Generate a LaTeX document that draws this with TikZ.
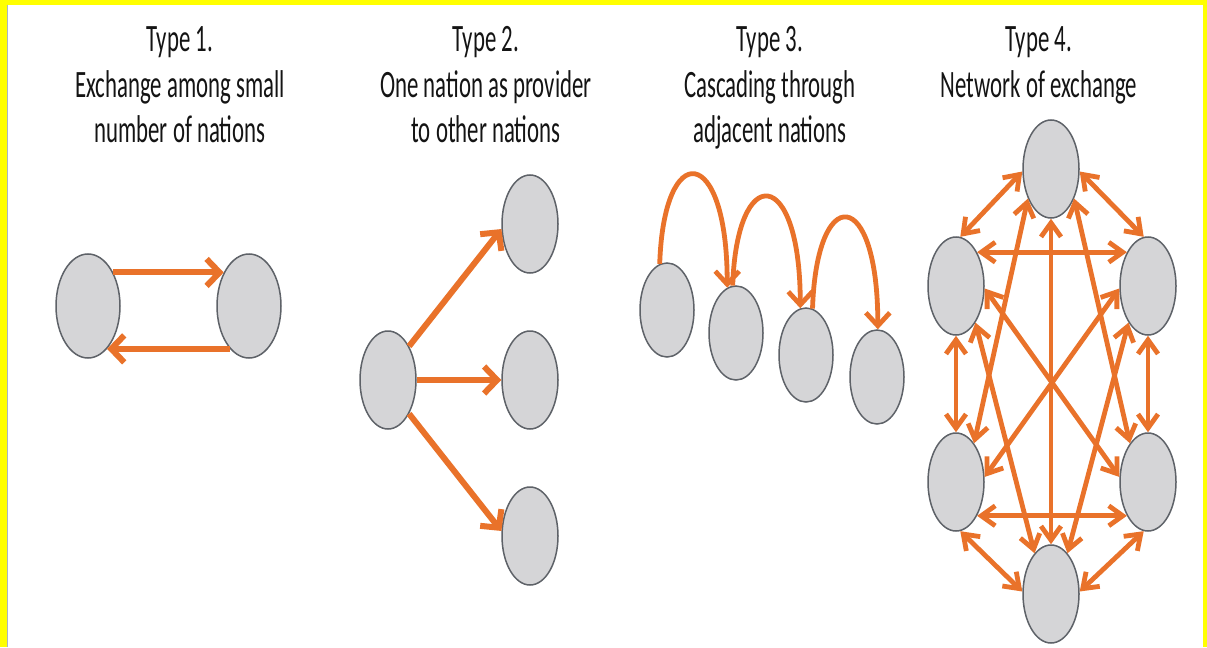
\documentclass[tikz,border=0pt]{standalone}
\usepackage{fontspec}
\setmainfont{Carlito}
\usetikzlibrary{arrows.meta,shapes.geometric}
\definecolor{orng}{HTML}{E9722A}
\definecolor{nfill}{HTML}{D5D5D7}
\definecolor{nline}{HTML}{5E6268}
\definecolor{ylw}{HTML}{FFFF00}
\definecolor{edge}{HTML}{A8B4C8}
\begin{document}
\begin{tikzpicture}[x=1pt,y=-1pt,
  nat/.style={ellipse, draw=nline, fill=nfill, line width=1.5pt, inner sep=0pt, minimum width=56pt, minimum height=98pt},
  bignat/.style={nat, minimum width=64pt, minimum height=104pt},
  smallnat/.style={nat, minimum width=54pt, minimum height=94pt},
  link/.style={draw=orng, line width=6pt, -{Straight Barb[length=13pt,width=27pt]}},
  arc/.style={draw=orng, line width=4.8pt, -{Straight Barb[length=13pt,width=24pt]}},
  both/.style={draw=orng, line width=4.8pt, {Straight Barb[length=14pt,width=20pt]}-{Straight Barb[length=14pt,width=20pt]}},
  title/.style={font=\fontsize{22.8}{26.5}\selectfont, text=black!92, inner sep=0pt, anchor=base}
]
% background and frame
\fill[ylw] (0,0) rectangle (1207,647);
\fill[white] (7,5) rectangle (1203,647);
\draw[edge, line width=1pt] (7.5,5) -- (7.5,647);
\useasboundingbox (0,0) rectangle (1207,647);

% titles
\node[title] (t1) at (180,52) {\scalebox{1}[1.7]{\begin{tabular}[t]{@{}c@{}}Type 1.\\Exchange among small\\number of nations\end{tabular}}};
\node[title] (t2) at (486,52) {\scalebox{1}[1.7]{\begin{tabular}[t]{@{}c@{}}Type 2.\\One nation as provider\\to other nations\end{tabular}}};
\node[title] (t3) at (770,52) {\scalebox{1}[1.7]{\begin{tabular}[t]{@{}c@{}}Type 3.\\Cascading through\\adjacent nations\end{tabular}}};
\node[title] (t4) at (1039,52) {\scalebox{1}[1.7]{\begin{tabular}[t]{@{}c@{}}Type 4.\\Network of exchange\end{tabular}}};

% Type 1
\node[bignat] (a1) at (88,306) {};
\node[bignat] (a2) at (249,306) {};
\draw[link] (a1.53) -- (a2.127);
\draw[link] (a2.246) -- (a1.294);

% Type 2
\node[nat] (b0) at (388,380) {};
\node[nat] (b1) at (530,224) {};
\node[nat] (b2) at (530,380) {};
\node[nat] (b3) at (530,536) {};
\draw[link] (b0.58) -- (b1.190);
\draw[link] (b0.east) -- (b2.west);
\draw[link] (b0.-58) -- (b3.170);

% Type 3
\node[smallnat] (c1) at (667,310) {};
\node[smallnat] (c2) at (736,333) {};
\node[smallnat] (c3) at (806,355) {};
\node[smallnat] (c4) at (877,377) {};
\draw[arc] (c1.99) .. controls +(4,-126) and +(0,-144) .. (c2.101);
\draw[arc] (c2.94) .. controls +(4,-124) and +(0,-143) .. (c3.97);
\draw[arc] (c3.82) .. controls +(4,-126) and +(0,-144) .. (c4.89);

% Type 4
\node[nat] (d1) at (1051,169) {};
\node[nat] (d2) at (956,286) {};
\node[nat] (d3) at (1148,286) {};
\node[nat] (d4) at (956,482) {};
\node[nat] (d5) at (1148,482) {};
\node[nat] (d6) at (1051,594) {};
\draw[both] (d1.185) -- (d2.85);
\draw[both] (d1.355) -- (d3.95);
\draw[both] (d2.58) -- (d3.122);
\draw[both] (d4.-58) -- (d5.238);
\draw[both] (d4.275) -- (d6.175);
\draw[both] (d5.265) -- (d6.5);
\draw[both] (d2.south) -- (d4.north);
\draw[both] (d3.south) -- (d5.north);
\draw[both] (d1.south) -- (d6.north);
\draw[both] (d1.232) -- (d4.65);
\draw[both] (d1.308) -- (d5.115);
\draw[both] (d2.-62) -- (d6.112);
\draw[both] (d3.242) -- (d6.68);
\draw[both] (d2.-5) -- (d5.170);
\draw[both] (d3.185) -- (d4.10);
\end{tikzpicture}
\end{document}
